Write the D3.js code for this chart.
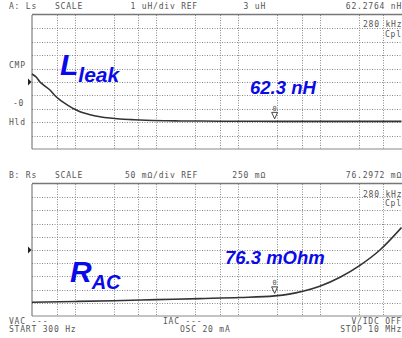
<!DOCTYPE html>
<html>
<head>
<meta charset="utf-8">
<script src="https://cdn.jsdelivr.net/npm/d3@7"></script>
<style>
  html, body { margin: 0; padding: 0; background: #fff; }
  svg { display: block; }
  .mono { font-family: "DejaVu Sans Mono", monospace; font-size: 8px; fill: #555; letter-spacing: 0.8px; }
  .big { font-family: "Liberation Sans", Arial, sans-serif; font-weight: bold; font-style: italic; fill: #0a0ae8; }
</style>
</head>
<body>
<script>
// Sweep: 300 Hz .. 10 MHz, log
const sweep = [300, 1e7];
// Vertical grid lines of the analyzer display (Hz)
const gridFreqs = [600, 1e3, 3e3, 6e3, 1e4, 3e4, 6e4, 1e5, 3e5, 6e5, 1e6, 3e6, 6e6];

// Trace A: Ls (uH), 1 uH/div, REF 3 uH
const lsFreq = [300, 340, 376, 420, 498, 560, 659, 760, 876, 1000, 1161, 1500, 2037, 2700, 3580, 5000, 6300, 9000, 13500, 20000, 34000, 60000, 105000, 280000, 760000, 2e6, 5e6, 1e7];
const lsValue = [3.6, 3.35, 3.0, 2.75, 2.4, 2.05, 1.66, 1.4, 1.16, 0.97, 0.78, 0.58, 0.41, 0.31, 0.24, 0.19, 0.16, 0.13, 0.11, 0.095, 0.085, 0.075, 0.07, 0.0623, 0.06, 0.06, 0.06, 0.06];

// Trace B: Rs (mOhm), 50 mOhm/div, REF 250 mOhm
const rsFreq = [300, 1000, 3000, 10000, 34000, 105000, 280000, 420000, 620000, 1e6, 1.77e6, 3.1e6, 5.44e6, 1e7];
const rsValue = [52, 55, 58, 62, 66, 70, 76.3, 83, 94, 113, 147, 192, 250, 335];

// Marker at 280 kHz
const markerFreq = 280000;
const markerLs = 0.0623;   // uH
const markerRs = 76.3;     // mOhm

const W = 402, H = 338;
const svg = d3.select("body").append("svg").attr("width", W).attr("height", H);

const x = d3.scaleLog().domain(sweep).range([32, 401.5]);
const yA = d3.scaleLinear().domain([-2, 8]).range([149, 15]);
const yB = d3.scaleLinear().domain([0, 500]).range([316, 184]);

function panel(y, ticks) {
  const g = svg.append("g");
  const [y0, y1] = y.range();
  // horizontal dotted grid
  g.selectAll("line.h").data(ticks).join("line")
    .attr("x1", x.range()[0]).attr("x2", x.range()[1])
    .attr("y1", d => Math.round(y(d)) + 0.5).attr("y2", d => Math.round(y(d)) + 0.5)
    .attr("stroke", "#8a8a8a").attr("stroke-width", 1).attr("stroke-dasharray", "1,1.5");
  // vertical dotted grid
  g.selectAll("line.v").data(gridFreqs).join("line")
    .attr("x1", d => Math.round(x(d)) + 0.5).attr("x2", d => Math.round(x(d)) + 0.5)
    .attr("y1", y1).attr("y2", y0)
    .attr("stroke", "#8a8a8a").attr("stroke-width", 1).attr("stroke-dasharray", "1,1.5");
  // frame
  g.append("line").attr("x1", x.range()[0]).attr("x2", W).attr("y1", y1 - 0.5).attr("y2", y1 - 0.5)
    .attr("stroke", "#777").attr("stroke-width", 1.6);
  g.append("line").attr("x1", x.range()[0]).attr("x2", W).attr("y1", y0).attr("y2", y0)
    .attr("stroke", "#888").attr("stroke-width", 1);
  g.append("line").attr("x1", x.range()[0]).attr("x2", x.range()[0]).attr("y1", y1).attr("y2", y0)
    .attr("stroke", "#666").attr("stroke-width", 1);
  return g;
}

panel(yA, d3.range(-1, 8));
panel(yB, d3.range(50, 500, 50));

// reference position arrows
function refArrow(yy) {
  svg.append("path")
    .attr("d", `M${x.range()[0] - 4},${yy - 3.5} L${x.range()[0] - 0.5},${yy} L${x.range()[0] - 4},${yy + 3.5} Z`)
    .attr("fill", "#222");
}
refArrow(yA(3));
refArrow(yB(250));

// traces
const line = (ys) => d3.line().x(d => x(d[0])).y(d => ys(d[1])).curve(d3.curveMonotoneX);
svg.append("path").datum(d3.zip(lsFreq, lsValue))
  .attr("d", line(yA)).attr("fill", "none").attr("stroke", "#333").attr("stroke-width", 1.6);
svg.append("path").datum(d3.zip(rsFreq, rsValue))
  .attr("d", line(yB)).attr("fill", "none").attr("stroke", "#333").attr("stroke-width", 1.6);

// marker symbols
function marker(yy) {
  const mx = x(markerFreq);
  svg.append("path")
    .attr("d", `M${mx - 3},${yy - 9} L${mx + 3},${yy - 9} L${mx},${yy - 2.5} Z`)
    .attr("fill", "#fff").attr("stroke", "#444").attr("stroke-width", 1);
  svg.append("text").attr("class", "mono").attr("x", mx).attr("y", yy - 10.5)
    .attr("text-anchor", "middle").style("letter-spacing", "0").style("font-size", "7px").text("0");
}
marker(yA(markerLs));
marker(yB(markerRs));

// instrument annotations
const txt = (xx, yy, s, anchor) => svg.append("text").attr("class", "mono")
  .attr("x", xx).attr("y", yy).attr("text-anchor", anchor || "start").text(s);

txt(9, 9, "A: Ls");
txt(55, 9, "SCALE");
txt(198, 9, "1 uH/div REF", "end");
txt(266, 9, "3 uH", "end");
txt(402, 9, "62.2764 nH", "end");
txt(363, 27, "280 kHz");
txt(385, 37, "Cpl");
txt(9, 68, "CMP");
txt(13, 106, "-0");
txt(9, 125, "Hld");

txt(9, 178, "B: Rs");
txt(55, 178, "SCALE");
txt(198, 178, "50 mΩ/div REF", "end");
txt(266, 178, "250 mΩ", "end");
txt(402, 178, "76.2972 mΩ", "end");
txt(363, 197, "280 kHz");
txt(385, 206, "Cpl");

txt(9, 324, "VAC ---");
txt(9, 332, "START 300 Hz");
txt(163, 324, "IAC ---");
txt(180, 332, "OSC 20 mA");
txt(402, 324, "V/IDC OFF", "end");
txt(402, 332, "STOP 10 MHz", "end");

// large annotations
const lT = svg.append("text").attr("class", "big").attr("x", 60).attr("y", 75);
lT.append("tspan").style("font-size", "30px").text("L");
lT.append("tspan").style("font-size", "21px").attr("dy", 7).text("leak");

const rT = svg.append("text").attr("class", "big").attr("x", 70).attr("y", 282);
rT.append("tspan").style("font-size", "30px").text("R");
rT.append("tspan").style("font-size", "20px").attr("dy", 7).text("AC");

svg.append("text").attr("class", "big").attr("x", 250).attr("y", 94)
  .style("font-size", "18.5px").text(`${(markerLs * 1000).toFixed(1)} nH`);
svg.append("text").attr("class", "big").attr("x", 225).attr("y", 264)
  .style("font-size", "18.5px").text(`${markerRs.toFixed(1)} mOhm`);
</script>
</body>
</html>
